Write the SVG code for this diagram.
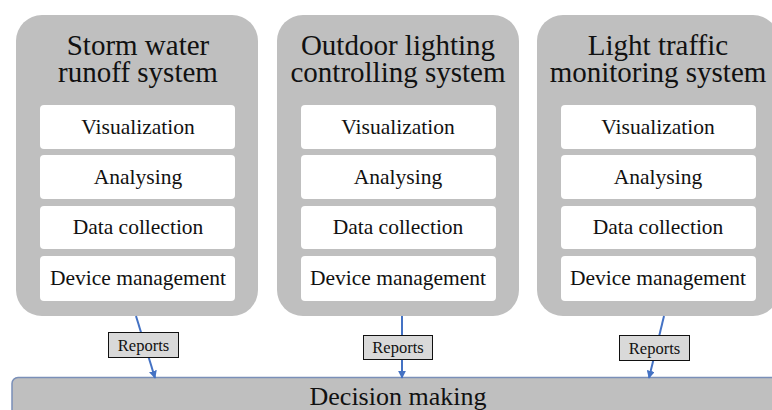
<svg xmlns="http://www.w3.org/2000/svg" width="772" height="410" viewBox="0 0 772 410">
  <defs>
    <style>
      .sys { fill: #bfbfbf; }
      .layer { fill: #ffffff; }
      text { font-family: 'Liberation Serif', 'Times New Roman', serif; fill: #111; text-anchor: middle; }
      .title { font-size: 29px; }
      .lbl { font-size: 21.5px; }
      .rep { fill: #d9d9d9; stroke: #111; stroke-width: 1; }
      .reptxt { font-size: 16.5px; }
      .conn { stroke: #4472c4; stroke-width: 2; fill: none; marker-end: url(#arr); }
      .dm { fill: #bfbfbf; stroke: #7a8fb8; stroke-width: 1.5; }
      .dmtxt { font-size: 26px; }
    </style>
    <marker id="arr" viewBox="0 0 10 10" refX="9" refY="5" markerWidth="4" markerHeight="4" orient="auto" markerUnits="strokeWidth">
      <path d="M0,0 L10,5 L0,10 z" fill="#4472c4"/>
    </marker>
  </defs>

  <!-- decision making bar -->
  <g id="decision">
    <rect class="dm" x="12" y="377.5" width="780" height="50" rx="6"/>
    <text class="dmtxt" x="398" y="405">Decision making</text>
  </g>

  <!-- storm water system -->
  <g id="storm">
    <rect class="sys" x="16" y="15" width="242" height="301" rx="26"/>
    <text class="title" x="138" y="55">Storm water</text>
    <text class="title" x="138" y="82">runoff system</text>
    <rect class="layer" x="40" y="105" width="195" height="44" rx="4"/>
    <text class="lbl" x="138" y="134">Visualization</text>
    <rect class="layer" x="40" y="155" width="195" height="44" rx="4"/>
    <text class="lbl" x="138" y="184">Analysing</text>
    <rect class="layer" x="40" y="206" width="195" height="43" rx="4"/>
    <text class="lbl" x="138" y="234">Data collection</text>
    <rect class="layer" x="40" y="256" width="195" height="45" rx="4"/>
    <text class="lbl" x="138" y="285">Device management</text>
  </g>

  <!-- outdoor lighting system -->
  <g id="lighting">
    <rect class="sys" x="277" y="15" width="242" height="301" rx="26"/>
    <text class="title" x="398" y="55">Outdoor lighting</text>
    <text class="title" x="398" y="82">controlling system</text>
    <rect class="layer" x="301" y="105" width="195" height="44" rx="4"/>
    <text class="lbl" x="398" y="134">Visualization</text>
    <rect class="layer" x="301" y="155" width="195" height="44" rx="4"/>
    <text class="lbl" x="398" y="184">Analysing</text>
    <rect class="layer" x="301" y="206" width="195" height="43" rx="4"/>
    <text class="lbl" x="398" y="234">Data collection</text>
    <rect class="layer" x="301" y="256" width="195" height="45" rx="4"/>
    <text class="lbl" x="398" y="285">Device management</text>
  </g>

  <!-- light traffic system -->
  <g id="traffic">
    <rect class="sys" x="537" y="15" width="242" height="301" rx="26"/>
    <text class="title" x="658" y="55">Light traffic</text>
    <text class="title" x="658" y="82">monitoring system</text>
    <rect class="layer" x="561" y="105" width="195" height="44" rx="4"/>
    <text class="lbl" x="658" y="134">Visualization</text>
    <rect class="layer" x="561" y="155" width="195" height="44" rx="4"/>
    <text class="lbl" x="658" y="184">Analysing</text>
    <rect class="layer" x="561" y="206" width="195" height="43" rx="4"/>
    <text class="lbl" x="658" y="234">Data collection</text>
    <rect class="layer" x="561" y="256" width="195" height="45" rx="4"/>
    <text class="lbl" x="658" y="285">Device management</text>
  </g>

  <!-- report connectors -->
  <g id="connectors">
    <line class="conn" x1="136" y1="316" x2="155" y2="378"/>
    <line class="conn" x1="402" y1="316" x2="402" y2="378"/>
    <line class="conn" x1="664" y1="316" x2="649" y2="378"/>
    <rect class="rep" x="108.5" y="332.5" width="70" height="25"/>
    <text class="reptxt" x="143.5" y="351">Reports</text>
    <rect class="rep" x="363.5" y="335.5" width="69" height="24"/>
    <text class="reptxt" x="398" y="353">Reports</text>
    <rect class="rep" x="619.5" y="335.5" width="70" height="25"/>
    <text class="reptxt" x="654.5" y="354">Reports</text>
  </g>
</svg>
